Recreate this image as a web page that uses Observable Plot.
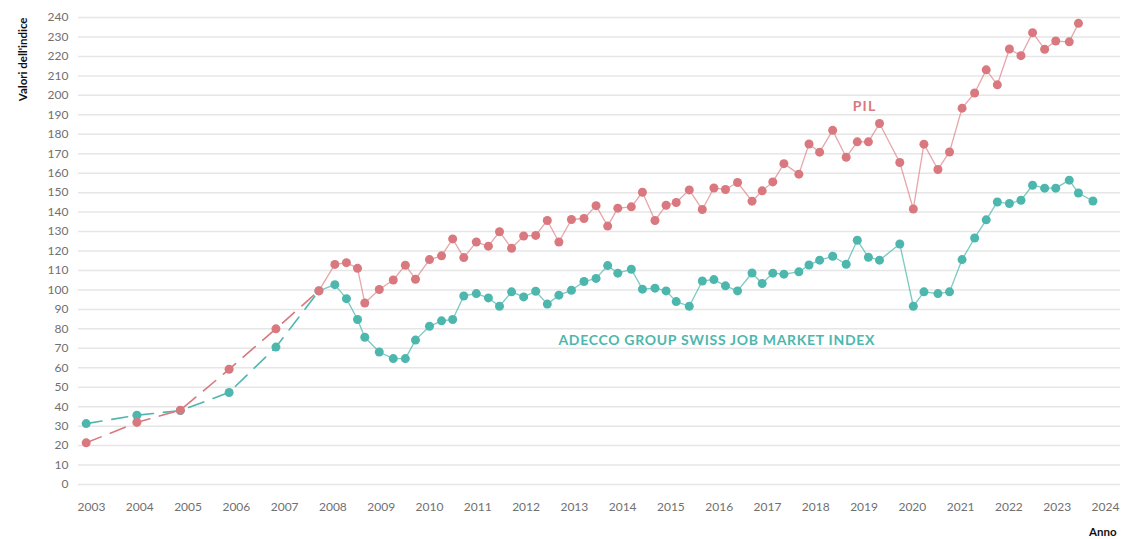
<!DOCTYPE html>
<html>
<head>
<meta charset="utf-8">
<script src="https://cdn.jsdelivr.net/npm/d3@7"></script>
<script src="https://cdn.jsdelivr.net/npm/@observablehq/plot@0.6"></script>
<style>
  html, body { margin: 0; padding: 0; background: #fff; }
  #chart svg { display: block; }
</style>
</head>
<body>
<div id="chart"></div>
<script>
// Dates as decimal years (annual 2003-2007, then quarterly)
const years = [
  2002.89, 2003.94, 2004.84, 2005.85, 2006.82, 2007.71,
  2008.04, 2008.28, 2008.51, 2008.66, 2008.96, 2009.25, 2009.50, 2009.71,
  2010.00, 2010.25, 2010.48, 2010.71, 2010.97, 2011.22, 2011.45, 2011.70,
  2011.95, 2012.20, 2012.44, 2012.68, 2012.94, 2013.20, 2013.45, 2013.69,
  2013.90, 2014.18, 2014.41, 2014.67, 2014.90, 2015.11, 2015.38, 2015.65,
  2015.89, 2016.13, 2016.38, 2016.68, 2016.89, 2017.11, 2017.34, 2017.65,
  2017.86, 2018.08, 2018.35, 2018.63, 2018.86, 2019.09, 2019.32, 2019.74,
  2020.02, 2020.24, 2020.53, 2020.77, 2021.03, 2021.29, 2021.53, 2021.76,
  2022.01, 2022.25, 2022.49, 2022.74, 2022.97, 2023.25, 2023.44, 2023.74
];
// Adecco Group Swiss Job Market Index
const adecco = [
  31.3, 35.6, 38.0, 47.3, 70.6, 99.5,
  102.7, 95.5, 84.8, 75.7, 68.1, 64.7, 64.7, 74.2,
  81.3, 84.1, 84.8, 96.9, 98.1, 95.9, 91.6, 99.0,
  96.4, 99.3, 92.7, 97.3, 99.8, 104.3, 105.9, 112.5,
  108.6, 110.6, 100.4, 100.9, 99.5, 94.0, 91.6, 104.6,
  105.3, 102.1, 99.5, 108.7, 103.3, 108.6, 108.1, 109.3,
  112.8, 115.3, 117.3, 113.2, 125.5, 116.8, 115.3, 123.6,
  91.6, 99.0, 98.1, 99.0, 115.6, 126.7, 136.0, 145.2,
  144.4, 146.1, 153.8, 152.3, 152.3, 156.4, 149.8, 145.7
];
// PIL (GDP)
const pil = [
  21.4, 31.9, 38.2, 59.2, 80.0, 99.6,
  113.1, 114.0, 111.1, 93.3, 100.2, 105.1, 112.7, 105.5,
  115.6, 117.5, 126.2, 116.6, 124.6, 122.5, 129.9, 121.4,
  127.7, 128.0, 135.7, 124.6, 136.2, 136.7, 143.3, 132.8,
  142.0, 142.7, 150.2, 135.7, 143.5, 144.9, 151.4, 141.3,
  152.4, 151.6, 155.2, 145.6, 150.9, 155.5, 164.9, 159.5,
  175.0, 170.8, 182.0, 168.2, 176.1, 176.1, 185.5, 165.5,
  141.6, 174.9, 161.9, 170.9, 193.4, 201.2, 213.1, 205.4,
  223.8, 220.4, 232.2, 223.7, 227.9, 227.5, 237.0
];
const xTicks = d3.range(2003, 2025);
const yTicks = d3.range(0, 241, 10);
const annualCount = 6; // first points (annual) drawn dashed

const labelPIL = [{x: 2019.01, y: 194.4, text: "PIL"}];
const labelAdecco = [{x: 2012.67, y: 74.0, text: "ADECCO GROUP SWISS JOB MARKET INDEX"}];

const RED = "#d9787e";
const TEAL = "#4db7ad";

const adeccoData = years.map((x, i) => ({x, v: adecco[i]}));
const pilData = pil.map((v, i) => ({x: years[i], v}));

const chart = Plot.plot({
  width: 1124,
  height: 539,
  marginLeft: 78,
  marginRight: 4,
  marginTop: 17,
  marginBottom: 55,
  style: {fontFamily: "Lato, 'Open Sans', sans-serif", fontSize: "12px", color: "#707070", background: "#fff"},
  x: {domain: [2002.731, 2024.311], ticks: xTicks, tickFormat: d => String(d), tickSize: 0, tickPadding: 18, label: null},
  y: {domain: [0, 240], ticks: yTicks, tickSize: 0, tickPadding: 10, label: null},
  marks: [
    Plot.ruleY(yTicks, {stroke: "#e6e6e6", strokeWidth: 1.5}),
    // dashed early segments
    Plot.line(adeccoData.slice(0, annualCount), {x: "x", y: "v", stroke: TEAL, strokeWidth: 1.6, strokeDasharray: "16,10"}),
    Plot.line(pilData.slice(0, annualCount), {x: "x", y: "v", stroke: RED, strokeWidth: 1.6, strokeDasharray: "16,10"}),
    // solid quarterly segments
    Plot.line(adeccoData.slice(annualCount - 1), {x: "x", y: "v", stroke: TEAL, strokeWidth: 1.3, strokeOpacity: 0.75}),
    Plot.line(pilData.slice(annualCount - 1), {x: "x", y: "v", stroke: RED, strokeWidth: 1.3, strokeOpacity: 0.65}),
    Plot.dot(adeccoData, {x: "x", y: "v", r: 4.5, fill: TEAL}),
    Plot.dot(pilData, {x: "x", y: "v", r: 4.5, fill: RED}),
    Plot.text(labelPIL, {x: "x", y: "y", text: "text", fill: RED, fontWeight: "bold", fontSize: 14, textAnchor: "middle"}),
    Plot.text(labelAdecco, {x: "x", y: "y", text: "text", fill: TEAL, fontWeight: "bold", fontSize: 14, textAnchor: "start"}),
    Plot.text(["Valori dell'indice"], {frameAnchor: "top-left", rotate: -90, textAnchor: "end", dx: -60, dy: 0, fill: "#111", fontWeight: "bold", fontSize: 11.5}),
    Plot.text(["Anno"], {frameAnchor: "bottom-right", textAnchor: "end", dx: -4, dy: 51, fill: "#111", fontWeight: "bold", fontSize: 11.5})
  ]
});
// widen the series labels' tracking, as in the reference
const svg = d3.select(chart);
svg.selectAll("text")
  .filter(function () { return this.textContent === labelPIL[0].text; })
  .style("letter-spacing", "1.2px");
svg.selectAll("text")
  .filter(function () { return this.textContent === labelAdecco[0].text; })
  .style("letter-spacing", "0.7px");
document.getElementById("chart").appendChild(chart);
</script>
</body>
</html>
